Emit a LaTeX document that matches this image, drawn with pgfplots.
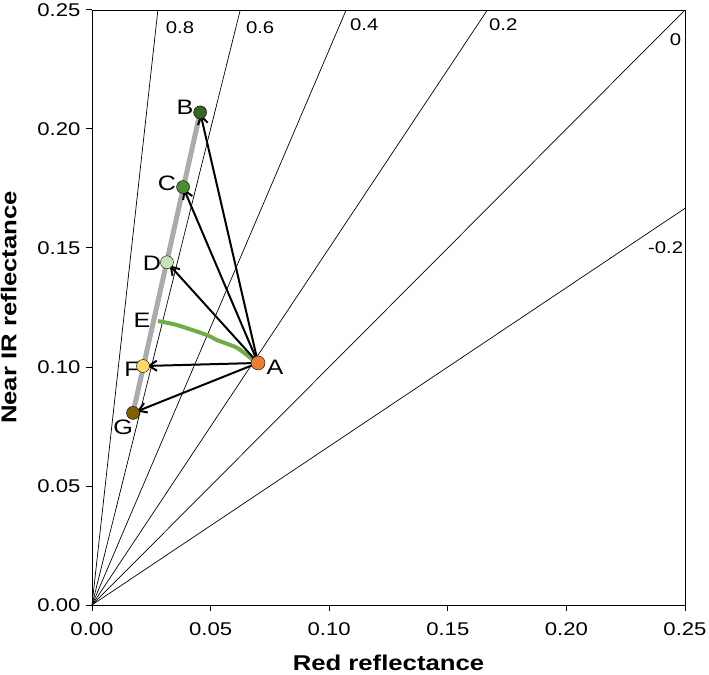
\documentclass[border=0pt]{standalone}
\usepackage{pgfplots}
\pgfplotsset{compat=1.18}
\usepackage{fontspec}
\setmainfont{Liberation Sans}[FakeStretch=1.2]
\usetikzlibrary{arrows.meta}
\definecolor{cA}{HTML}{ED7D31}
\definecolor{cB}{HTML}{3B6325}
\definecolor{cC}{HTML}{4E8A2E}
\definecolor{cD}{HTML}{C9E3B8}
\definecolor{cF}{HTML}{FFD966}
\definecolor{cG}{HTML}{7F6000}
\definecolor{cLine}{HTML}{70AD47}
\definecolor{cGray}{HTML}{ABABAB}
\begin{document}
\begin{tikzpicture}
\begin{axis}[
  scale only axis,
  width=593bp, height=595bp,
  xmin=0, xmax=0.25, ymin=0, ymax=0.25,
  xtick={0,0.05,...,0.25}, ytick={0,0.05,...,0.25},
  tick align=outside, tick pos=left,
  major tick length=6bp,
  axis line style={line width=0.9pt},
  tick style={line width=1pt, black},
  /pgf/number format/assume math mode=true,
  /pgf/number format/.cd, fixed, fixed zerofill, precision=2, /pgfplots/.cd,
  ticklabel style={font=\fontsize{18.5}{20}\selectfont},
  yticklabel style={xshift=-2bp},
  xticklabel style={yshift=-8bp},
  xlabel={\textbf{Red reflectance}},
  ylabel={\textbf{Near IR reflectance}},
  label style={font=\fontsize{21.5}{24}\selectfont},
  xlabel style={yshift=-13bp},
  ylabel style={yshift=14bp},
  clip=true,
]
\coordinate (ll) at (rel axis cs:0,0);
\coordinate (ur) at (rel axis cs:1,1);
% NDVI isolines
\addplot[black, line width=0.7pt] coordinates {(0,0) (0.027778,0.25)};
\addplot[black, line width=0.7pt] coordinates {(0,0) (0.0625,0.25)};
\addplot[black, line width=0.7pt] coordinates {(0,0) (0.107143,0.25)};
\addplot[black, line width=0.7pt] coordinates {(0,0) (0.166667,0.25)};
\addplot[black, line width=0.7pt] coordinates {(0,0) (0.25,0.25)};
\addplot[black, line width=0.7pt] coordinates {(0,0) (0.25,0.166667)};
% isoline labels
\node[font=\fontsize{17}{18}\selectfont] at (axis cs:0.0371,0.2424) {0.8};
\node[font=\fontsize{17}{18}\selectfont] at (axis cs:0.0709,0.2424) {0.6};
\node[font=\fontsize{17}{18}\selectfont] at (axis cs:0.1148,0.2437) {0.4};
\node[font=\fontsize{17}{18}\selectfont] at (axis cs:0.1734,0.2437) {0.2};
\node[font=\fontsize{17}{18}\selectfont] at (axis cs:0.2460,0.2374) {0};
\node[font=\fontsize{17}{18}\selectfont] at (axis cs:0.2418,0.1500) {-0.2};
% gray line G-B
\addplot[cGray, line width=5bp] coordinates {(0.0173,0.0807) (0.0456,0.2070)};
% green curve E-A
\addplot[cLine, line width=4bp, smooth] coordinates {(0.0278,0.1193) (0.0359,0.1176) (0.0485,0.1134) (0.0527,0.1113) (0.0612,0.1080) (0.0679,0.1029)};
% arrows from A
\addplot[black, line width=2pt, -{Straight Barb[length=8bp,width=10bp]}, shorten >=2bp] coordinates {(0.0700,0.1017) (0.0456,0.2070)};
\addplot[black, line width=2pt, -{Straight Barb[length=8bp,width=10bp]}, shorten >=2bp] coordinates {(0.0700,0.1017) (0.0384,0.1756)};
\addplot[black, line width=2pt, -{Straight Barb[length=8bp,width=10bp]}, shorten >=4bp] coordinates {(0.0700,0.1017) (0.0316,0.1440)};
\addplot[black, line width=2pt, -{Straight Barb[length=8bp,width=10bp]}, shorten >=4bp] coordinates {(0.0700,0.1017) (0.0215,0.1004)};
\addplot[black, line width=2pt, -{Straight Barb[length=8bp,width=10bp]}, shorten >=4bp] coordinates {(0.0700,0.1017) (0.0173,0.0807)};
% points
\addplot[only marks, mark=*, mark size=6.5bp, draw=none, fill=cB] coordinates {(0.0456,0.2070)};
\addplot[only marks, mark=*, mark size=6.5bp, draw=none, fill=cC] coordinates {(0.0384,0.1756)};
\addplot[only marks, mark=*, mark size=6.5bp, draw=none, fill=cD] coordinates {(0.0316,0.1440)};
\addplot[only marks, mark=*, mark size=6.5bp, draw=none, fill=cF] coordinates {(0.0215,0.1004)};
\addplot[only marks, mark=*, mark size=6.5bp, draw=none, fill=cG] coordinates {(0.0173,0.0807)};
\addplot[only marks, mark=*, mark size=7bp, draw=none, fill=cA] coordinates {(0.0700,0.1017)};
% point labels
\node[font=\fontsize{21}{22}\selectfont] at (axis cs:0.0392,0.2092) {B};
\node[font=\fontsize{21}{22}\selectfont] at (axis cs:0.0316,0.1773) {C};
\node[font=\fontsize{21}{22}\selectfont] at (axis cs:0.0253,0.1437) {D};
\node[font=\fontsize{21}{22}\selectfont] at (axis cs:0.0211,0.1197) {E};
\node[font=\fontsize{21}{22}\selectfont] at (axis cs:0.0169,0.0992) {F};
\node[font=\fontsize{21}{22}\selectfont] at (axis cs:0.0131,0.0748) {G};
\node[font=\fontsize{21}{22}\selectfont] at (axis cs:0.0772,0.1000) {A};
\end{axis}
\pgfresetboundingbox
\path ([shift={(-92bp,-70bp)}]ll) rectangle ([shift={(24bp,10bp)}]ur);
\end{tikzpicture}
\end{document}
